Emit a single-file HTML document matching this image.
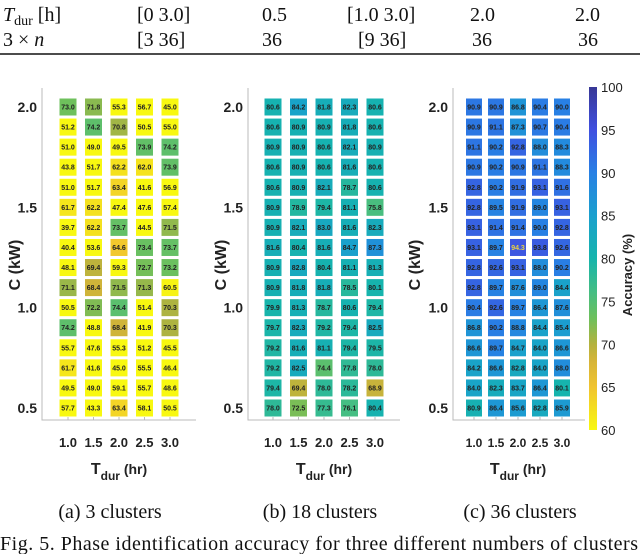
<!DOCTYPE html>
<html><head><meta charset="utf-8">
<style>
html,body{margin:0;padding:0;background:#fff;}
svg{display:block;}
.tm{font-family:"Liberation Serif",serif;font-size:20px;fill:#111;}
.ar{font-family:"Liberation Sans",sans-serif;font-weight:bold;fill:#222;}
</style></head>
<body>
<svg id="root" width="640" height="554" viewBox="0 0 640 554">
<g>
<text class="tm" x="3" y="21" font-style="italic">T<tspan font-size="14" font-style="normal" dy="4">dur</tspan><tspan font-style="normal" dy="-4">  [h]</tspan></text>
<text class="tm" x="137" y="21">[0 3.0]</text>
<text class="tm" x="262" y="21">0.5</text>
<text class="tm" x="347" y="21">[1.0 3.0]</text>
<text class="tm" x="470" y="21">2.0</text>
<text class="tm" x="575" y="21">2.0</text>
<text class="tm" x="3" y="46">3 × <tspan font-style="italic">n</tspan></text>
<text class="tm" x="137" y="46">[3 36]</text>
<text class="tm" x="262" y="46">36</text>
<text class="tm" x="358" y="46">[9 36]</text>
<text class="tm" x="472" y="46">36</text>
<text class="tm" x="578" y="46">36</text>
<line x1="0" y1="54" x2="640" y2="54" stroke="#111" stroke-width="1.5"/>
</g>
<text class="tm" x="110" y="518" text-anchor="middle">(a) 3 clusters</text>
<text class="tm" x="320" y="518" text-anchor="middle">(b) 18 clusters</text>
<text class="tm" x="520" y="518" text-anchor="middle">(c) 36 clusters</text>
<text class="tm" x="0" y="550" textLength="638">Fig. 5.  Phase identification accuracy for three different numbers of clusters</text>
</svg>
<script>
const tdurTicks = ["1.0","1.5","2.0","2.5","3.0"];
const cValues = [2.0,1.9,1.8,1.7,1.6,1.5,1.4,1.3,1.2,1.1,1.0,0.9,0.8,0.7,0.6,0.5];
const cTickLabels = ["2.0","1.5","1.0","0.5"];
const cTickValues = [2.0,1.5,1.0,0.5];
const cbarTicks = [100,95,90,85,80,75,70,65,60];
const acc3 = [
[73.0,71.8,55.3,56.7,45.0],[51.2,74.2,70.8,50.5,55.0],[51.0,49.0,49.5,73.9,74.2],[43.8,51.7,62.2,62.0,73.9],
[51.0,51.7,63.4,41.6,56.9],[61.7,62.2,47.4,47.6,57.4],[39.7,62.2,73.7,44.5,71.5],[40.4,53.6,64.6,73.4,73.7],
[48.1,69.4,59.3,72.7,73.2],[71.1,68.4,71.5,71.3,60.5],[50.5,72.2,74.4,51.4,70.3],[74.2,48.8,68.4,41.9,70.3],
[55.7,47.6,55.3,51.2,45.5],[61.7,41.6,45.0,55.5,46.4],[49.5,49.0,59.1,55.7,48.6],[57.7,43.3,63.4,58.1,50.5]];
const acc18 = [
[80.6,84.2,81.8,82.3,80.6],[80.6,80.9,80.9,81.8,80.6],[80.9,80.9,80.6,82.1,80.9],[80.6,80.9,80.6,81.6,80.6],
[80.6,80.9,82.1,78.7,80.6],[80.9,78.9,79.4,81.1,75.8],[80.9,82.1,83.0,81.6,82.3],[81.6,80.4,81.6,84.7,87.3],
[80.9,82.8,80.4,81.1,81.3],[80.9,81.8,81.8,78.5,80.1],[79.9,81.3,78.7,80.6,79.4],[79.7,82.3,79.2,79.4,82.5],
[79.2,81.6,81.1,79.4,79.5],[79.2,82.5,74.4,77.8,78.0],[79.4,69.4,78.0,78.2,68.9],[78.0,72.5,77.3,76.1,80.4]];
const acc36 = [
[90.9,90.9,86.8,90.4,90.0],[90.9,91.1,87.3,90.7,90.4],[91.1,90.2,92.8,88.0,88.3],[90.9,90.2,90.9,91.1,88.3],
[92.8,90.2,91.9,93.1,91.6],[92.8,89.5,91.9,89.0,93.1],[93.1,91.4,91.4,90.0,92.8],[93.1,89.7,94.3,93.8,92.6],
[92.8,92.6,93.1,88.0,90.2],[92.8,89.7,87.6,89.0,84.4],[90.4,92.6,89.7,86.4,87.6],[86.8,90.2,88.8,84.4,85.4],
[86.6,89.7,84.7,84.0,86.6],[84.2,86.6,82.8,84.0,88.0],[84.0,82.3,83.7,86.4,80.1],[80.9,86.4,85.6,82.8,85.9]];

const NS="http://www.w3.org/2000/svg";
const root=document.getElementById('root');
function mk(tag,attrs,parent){const e=document.createElementNS(NS,tag);for(const k in attrs)e.setAttribute(k,attrs[k]);(parent||root).appendChild(e);return e;}
const stops=[[60,[248,248,16]],[65,[240,196,48]],[68,[214,180,56]],[70,[180,178,62]],[73,[110,192,92]],[76,[70,190,130]],[80,[22,180,172]],[85,[26,160,206]],[90,[40,128,228]],[95,[64,80,224]],[100,[56,56,150]]];
function color(v){v=Math.max(60,Math.min(100,v));for(let i=0;i<stops.length-1;i++){const a=stops[i],b=stops[i+1];if(v<=b[0]){const t=(v-a[0])/(b[0]-a[0]);const c=a[1].map((x,j)=>Math.round(x+(b[1][j]-x)*t));return `rgb(${c.join(',')})`;}}return 'rgb(56,56,150)';}
const yScale=c=>107+(2.0-c)*(301/1.5);

function panel(name,data,axL,axR,x0,dx,cw,titleX){
  const g=mk('g',{});
  
  
  const xScale=i=>x0+i*dx;
  const axis=mk('path',{d:`M${axL},88 V420 H${axR}`,fill:'none',stroke:'#bbb','stroke-width':1},g);
  
  
  data.forEach((row,r)=>row.forEach((v,c)=>{
    const cx=xScale(c),cy=yScale(cValues[r]);
    const rect=mk('rect',{x:cx-cw/2,y:cy-8.5,width:cw,height:17,fill:color(v)},g);
    
    
    const t=mk('text',{x:cx,y:cy+2.5,'text-anchor':'middle','font-size':7,class:'ar'},g);
    t.style.fill=(v>94?'#e8d040':'#222');
    t.textContent=v.toFixed(1);
    
    
  }));
  tdurTicks.forEach((lab,i)=>{
    const tk=mk('line',{x1:xScale(i),x2:xScale(i),y1:420,y2:417,stroke:'#bbb'},g);
    
    
    const t=mk('text',{x:xScale(i),y:447,'text-anchor':'middle','font-size':dx<24?12:13,class:'ar'},g);
    t.textContent=lab;
    
    
  });
  cTickValues.forEach((v,i)=>{
    const t=mk('text',{x:axL-5,y:yScale(v)+5,'text-anchor':'end','font-size':14,class:'ar'},g);
    t.textContent=cTickLabels[i];
    
    
  });
  const mid=xScale(2);
  const xt=mk('text',{x:mid,y:474,'text-anchor':'middle','font-size':16,class:'ar'},g);
  xt.innerHTML='T<tspan font-size="12" dy="6">dur</tspan><tspan dy="-6" font-size="14"> (hr)</tspan>';
  
  
  const yt=mk('text',{x:0,y:0,'text-anchor':'middle','font-size':16,class:'ar',transform:`translate(${titleX},265) rotate(-90)`},g);
  yt.textContent='C (kW)';
  
  
}
panel('heatmap-3-clusters',acc3,42,196,68,25.5,17,20);
panel('heatmap-18-clusters',acc18,248,400,273,25.5,17,226);
panel('heatmap-36-clusters',acc36,453,585,474,22,16,420);

const cb=mk('g',{});


const defs=mk('defs',{},cb);
const lg=mk('linearGradient',{id:'cbg',x1:0,y1:1,x2:0,y2:0},defs);
stops.forEach(s=>mk('stop',{offset:(s[0]-60)/40,'stop-color':color(s[0])},lg));
const cbTop=87,cbBot=430;
const cbScale=v=>cbBot-(v-60)/40*(cbBot-cbTop);
const cbr=mk('rect',{x:589,y:cbTop,width:8,height:cbBot-cbTop,fill:'url(#cbg)'},cb);


cbarTicks.forEach(v=>{
  const t=mk('text',{x:601,y:cbScale(v)+5,'font-size':13,'font-family':'Liberation Sans, sans-serif',fill:'#222'},cb);
  t.textContent=String(v);
  
  
});
const ct=mk('text',{x:0,y:0,'text-anchor':'middle','font-size':13,class:'ar',transform:'translate(632,275) rotate(-90)'},cb);
ct.textContent='Accuracy (%)';


</script>
</body></html>
